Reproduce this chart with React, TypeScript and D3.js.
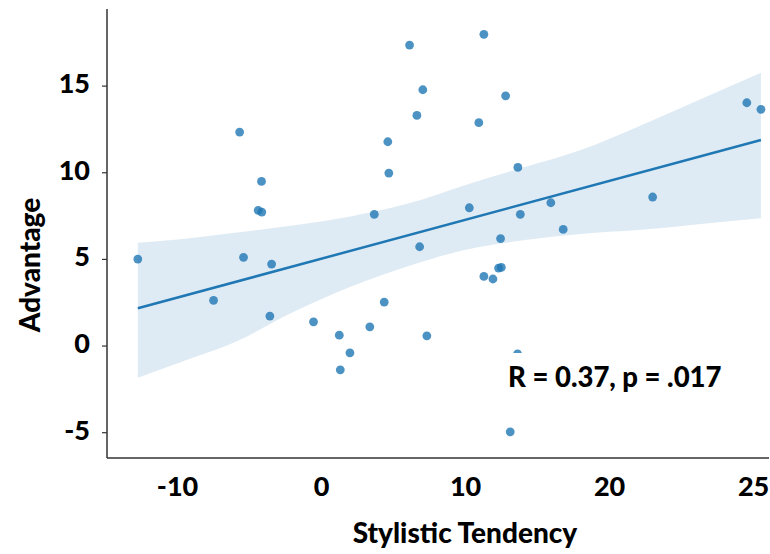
import React from 'react';
import * as d3 from 'd3';

const W = 770;
const H = 554;

// Scatter data (Stylistic Tendency vs Advantage)
const stylistic = [
  -5.69, -4.17, -4.40, -4.15, 6.11, 11.27, 7.03, 12.78, 6.62, 10.92,
  4.60, 4.67, 13.63, 3.66, 10.26, 13.80, 15.92, 12.43, 29.53, 30.51,
  22.99, 16.78, -12.76, -5.42, -3.47, -7.50, -3.59, -0.56, 6.81, 11.27,
  11.90, 12.29, 12.48, 4.35, 3.35, 1.23, 7.31, 1.97, 1.30, 13.10, 13.61,
];
const advantage = [
  12.35, 9.50, 7.83, 7.73, 17.37, 17.99, 14.79, 14.44, 13.31, 12.89,
  11.79, 9.98, 10.31, 7.60, 7.98, 7.60, 8.27, 6.20, 14.04, 13.66,
  8.60, 6.73, 5.02, 5.12, 4.73, 2.64, 1.73, 1.40, 5.73, 4.02,
  3.87, 4.50, 4.54, 2.54, 1.11, 0.63, 0.59, -0.39, -1.37, -4.95, -0.45,
];

// Regression line and its confidence band
const fitX = [-12.76, 30.51];
const fitY = [2.18, 11.89];
const bandX = [-12.76, -10, -6, -2, 2, 6, 10, 14, 18, 22, 26, 30.51];
const bandHigh = [5.96, 6.15, 6.54, 6.95, 7.48, 8.22, 9.30, 10.30, 11.31, 12.67, 14.13, 15.77];
const bandLow = [-1.83, -0.99, 0.23, 1.95, 3.42, 4.60, 5.56, 6.10, 6.47, 6.69, 7.01, 7.37];

// Axes
const xDomain = [-14.9, 31.0];
const yDomain = [-6.46, 19.45];
const yTicks = [-5, 0, 5, 10, 15];
const xTickValues = [-10, 0, 10, 20, 30];
const xTickLabels = ['-10', '0', '10', '20', '25'];

const annotation = 'R = 0.37, p = .017';
const xLabel = 'Stylistic Tendency';
const yLabel = 'Advantage';

const margin = { left: 107, right: 2, top: 9, bottom: 96 };
const FONT = "Lato, 'Open Sans', sans-serif";
const BLUE = '#1f77b4';

export default function App() {
  const x = d3.scaleLinear().domain(xDomain).range([margin.left, W - margin.right]);
  const y = d3.scaleLinear().domain(yDomain).range([H - margin.bottom, margin.top]);

  const bandData = bandX.map((v, i) => ({ x: v, lo: bandLow[i], hi: bandHigh[i] }));
  const area = d3
    .area<{ x: number; lo: number; hi: number }>()
    .x((d) => x(d.x))
    .y0((d) => y(d.lo))
    .y1((d) => y(d.hi))
    .curve(d3.curveMonotoneX);
  const line = d3
    .line<number>()
    .x((d) => x(d))
    .y((_, i) => y(fitY[i]));

  const x0 = margin.left;
  const yBottom = H - margin.bottom;

  return (
    <svg
      width={W}
      height={H}
      style={{ position: 'absolute', left: 0, top: 0, background: '#fff' }}
      fontFamily={FONT}
      fontWeight={900}
    >
      <rect x={0} y={0} width={W} height={H} fill="#fff" />
      <path d={area(bandData) || ''} fill={BLUE} fillOpacity={0.15} />
      <path d={line(fitX) || ''} fill="none" stroke={BLUE} strokeWidth={2.5} />
      {stylistic.map((sx, i) => (
        <circle key={i} cx={x(sx)} cy={y(advantage[i])} r={4.4} fill={BLUE} fillOpacity={0.8} />
      ))}

      {/* annotation box */}
      <rect x={x(12.3)} y={y(-0.4)} width={236} height={46} fill="#fff" />
      <text x={x(12.95)} y={y(-2.38)} fontSize={27.5} fill="#000">
        {annotation}
      </text>

      {/* spines */}
      <line x1={x0} x2={x0} y1={margin.top} y2={yBottom} stroke="#333" strokeWidth={1.5} />
      <line x1={x0} x2={W - 1} y1={yBottom} y2={yBottom} stroke="#333" strokeWidth={1.5} />

      {yTicks.map((t) => (
        <g key={t}>
          <line x1={x0 - 5} x2={x0} y1={y(t)} y2={y(t)} stroke="#333" strokeWidth={1.2} />
          <text x={90} y={y(t) + 7} textAnchor="end" fontSize={27} fill="#000">
            {String(t)}
          </text>
        </g>
      ))}

      {xTickValues.map((t, i) => (
        <text key={t} x={x(t)} y={496} textAnchor="middle" fontSize={27} fill="#000">
          {xTickLabels[i]}
        </text>
      ))}

      <text x={465} y={543} textAnchor="middle" fontSize={28} fill="#000">
        {xLabel}
      </text>
      <text
        transform={`translate(40, 265) rotate(-90)`}
        textAnchor="middle"
        fontSize={28}
        fill="#000"
      >
        {yLabel}
      </text>
    </svg>
  );
}
